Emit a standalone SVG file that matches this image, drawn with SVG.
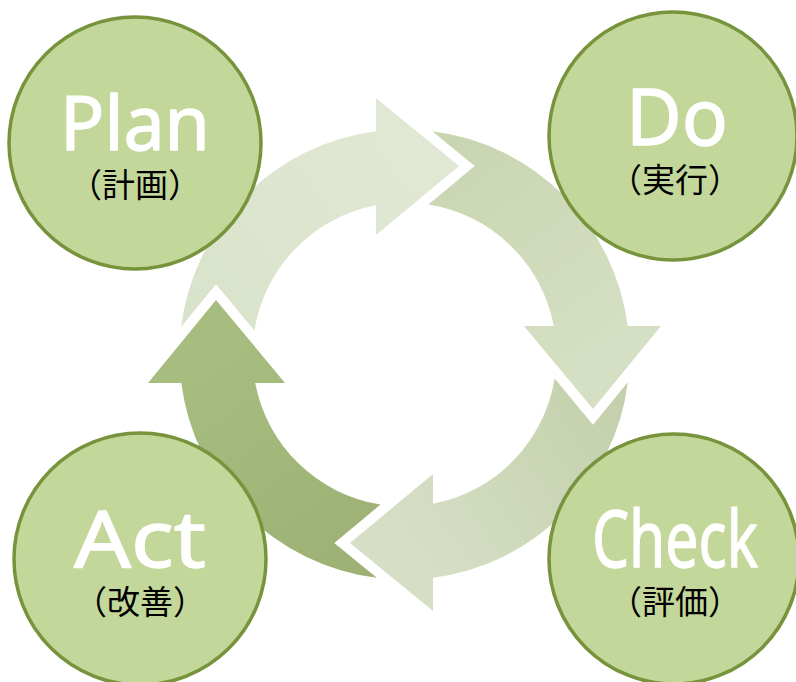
<svg xmlns="http://www.w3.org/2000/svg" xmlns:xlink="http://www.w3.org/1999/xlink" width="796" height="682" viewBox="0 0 796 682">
<style>
.node circle{fill:#c4d79b;stroke:#77933c;stroke-width:3.5}
.main{font-family:"Noto Sans","Open Sans","Liberation Sans",sans-serif;font-weight:400;fill:#ffffff;stroke:#ffffff;stroke-width:1.3;stroke-linejoin:round;text-anchor:middle}
.sub{font-family:"Noto Sans CJK JP","Noto Sans",sans-serif;font-size:33px;fill:#000000;text-anchor:middle}
</style>
<defs>
<path id="arr" d="M -27.7 223.3 A 225 225 0 0 1 -223.2 28.5 L -256.5 28.5 L -188.5 -54.5 L -119.5 28.5 L -149.3 28.5 A 152 152 0 0 0 -24.0 150.1 L -70.2 188.5 Z"/>
<linearGradient id="gA" gradientUnits="userSpaceOnUse" x1="-40" y1="210" x2="-190" y2="0">
<stop offset="0" stop-color="#9cb173"/><stop offset="1" stop-color="#a7bc7f"/>
</linearGradient>
<linearGradient id="gP" gradientUnits="userSpaceOnUse" x1="-40" y1="210" x2="-190" y2="0">
<stop offset="0" stop-color="#d9e2ca"/><stop offset="1" stop-color="#e0e8d4"/>
</linearGradient>
<linearGradient id="gD" gradientUnits="userSpaceOnUse" x1="-40" y1="210" x2="-190" y2="0">
<stop offset="0" stop-color="#c9d5b1"/><stop offset="1" stop-color="#d5dfc3"/>
</linearGradient>
<linearGradient id="gC" gradientUnits="userSpaceOnUse" x1="-40" y1="210" x2="-190" y2="0">
<stop offset="0" stop-color="#c4d0ab"/><stop offset="1" stop-color="#d6dfc6"/>
</linearGradient>
</defs>
<rect width="796" height="682" fill="#ffffff"/>
<g id="connectors" transform="translate(404.5 354.5)">
<use xlink:href="#arr" href="#arr" fill="url(#gA)"/>
<use xlink:href="#arr" href="#arr" transform="rotate(90)" fill="url(#gP)"/>
<use xlink:href="#arr" href="#arr" transform="rotate(180)" fill="url(#gD)"/>
<use xlink:href="#arr" href="#arr" transform="rotate(270)" fill="url(#gC)"/>
</g>
<g id="plan" class="node">
<circle cx="135" cy="143" r="126"/>
<text class="main" x="135" y="150" font-size="74" textLength="150" lengthAdjust="spacingAndGlyphs">Plan</text>
<text class="sub" x="135" y="197">（計画）</text>
</g>
<g id="do" class="node">
<circle cx="673" cy="136" r="124"/>
<text class="main" x="677" y="145" font-size="79" textLength="102" lengthAdjust="spacingAndGlyphs">Do</text>
<text class="sub" x="675" y="192">（実行）</text>
</g>
<g id="act" class="node">
<circle cx="140" cy="559" r="126"/>
<text class="main" x="140" y="567" font-size="79" textLength="132" lengthAdjust="spacingAndGlyphs">Act</text>
<text class="sub" x="140" y="614">（改善）</text>
</g>
<g id="check" class="node">
<circle cx="674" cy="559" r="125"/>
<text class="main" x="675" y="567" font-size="79" stroke-width="0.6" textLength="166" lengthAdjust="spacingAndGlyphs">Check</text>
<text class="sub" x="675" y="614">（評価）</text>
</g>
</svg>
